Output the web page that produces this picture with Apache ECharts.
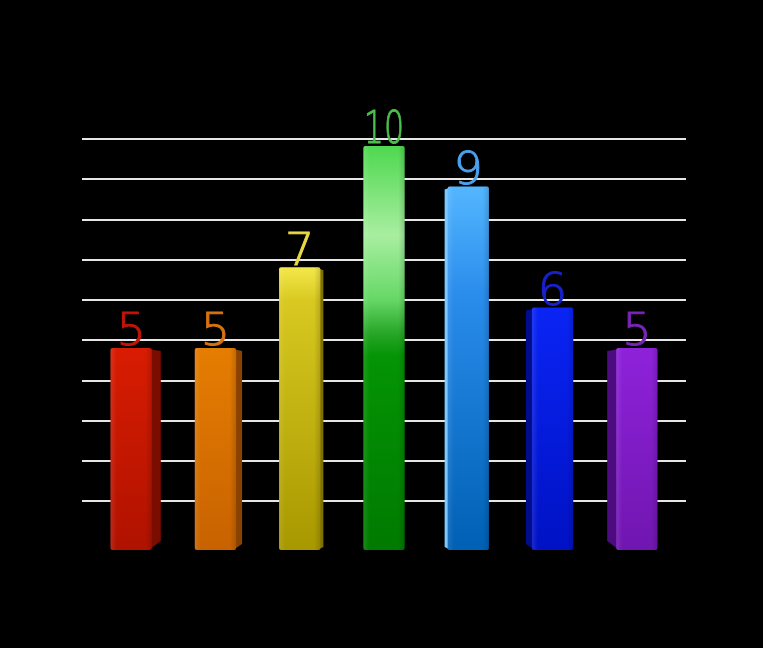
<!DOCTYPE html>
<html>
<head>
<meta charset="utf-8">
<title>bars</title>
<style>html,body{margin:0;padding:0;background:#000;}#chart{width:763px;height:648px;}</style>
</head>
<body>
<div id="chart"></div>
<script src="https://cdn.jsdelivr.net/npm/echarts@6/dist/echarts.min.js"></script>
<script>
var categories = ['A', 'B', 'C', 'D', 'E', 'F', 'G'];
var values = [5, 5, 7, 10, 9, 6, 5];
var gridTicks = [0, 1, 2, 3, 4, 5, 6, 7, 8, 9];

// colour sets per bar: gradient stops top->bottom, side face, label
var palette = [
    {stops: [[0, '#d81c02'], [1, '#b01200']], side: '#7a0c00', label: '#c41408'},
    {stops: [[0, '#e57d02'], [1, '#c86200']], side: '#8a4200', label: '#d87410'},
    {stops: [[0, '#f4e84a'], [0.12, '#d8c820'], [1, '#a89800']], side: '#807000', label: '#e8d848'},
    {stops: [[0, '#4fd84f'], [0.22, '#a8eea0'], [0.38, '#66d866'], [0.46, '#2aa82a'], [0.52, '#049404'], [1, '#007a00']], side: '#005000', label: '#4cc04c'},
    {stops: [[0, '#54b6ff'], [0.3, '#2a8ceb'], [1, '#0060b4']], side: '#7cc8ff', label: '#4aa2ee'},
    {stops: [[0, '#0a24f4'], [1, '#0012c4']], side: '#000c8a', label: '#1822cc'},
    {stops: [[0, '#8e22da'], [1, '#7016b0']], side: '#4c0c80', label: '#7a24b8'}
];

var chart = echarts.init(document.getElementById('chart'));

function renderBar(params, api) {
    var idx = params.dataIndex;
    var top = api.coord([idx, api.value(1)]);
    var base = api.coord([idx, 0]);
    var bw = api.size([1, 0])[0] * 0.49;
    var x = top[0] - bw / 2;
    var p = palette[idx];
    var s = -(top[0] - 384) / 28;
    var stops = p.stops.map(function (st) { return {offset: st[0], color: st[1]}; });
    var children = [];
    var edge = s >= 0 ? x + bw : x;
    var inset = s >= 0 ? -3 : 3;
    if (Math.abs(s) > 1) {
        children.push({
            type: 'polygon',
            shape: {points: [[edge + inset, top[1] + 1], [edge + s, top[1] + 3], [edge + s, base[1] - Math.abs(s)], [edge + inset, base[1]]]},
            style: {fill: p.side}
        });
    }
    children.push({
        type: 'rect',
        shape: {x: x, y: top[1], width: bw, height: base[1] - top[1], r: 2},
        style: {fill: new echarts.graphic.LinearGradient(0, 0, 0, 1, stops)}
    });
    // soft vertical shading on the face
    children.push({
        type: 'rect',
        shape: {x: x, y: top[1], width: bw, height: base[1] - top[1], r: 2},
        style: {fill: new echarts.graphic.LinearGradient(0, 0, 1, 0, [
            {offset: 0, color: 'rgba(255,255,255,0.10)'},
            {offset: 0.15, color: 'rgba(255,255,255,0)'},
            {offset: 0.85, color: 'rgba(0,0,0,0)'},
            {offset: 1, color: 'rgba(0,0,0,0.15)'}
        ])}
    });
    var txt = String(api.value(1));
    children.push({
        type: 'text',
        x: top[0],
        y: top[1] + 8,
        scaleX: txt.length > 1 ? 0.72 : 1.05,
        style: {
            text: txt,
            x: 0,
            y: 0,
            align: 'center',
            verticalAlign: 'bottom',
            fill: p.label,
            stroke: p.label,
            lineWidth: 0.9,
            font: '200 44px "DejaVu Sans", sans-serif'
        },
        z2: 10
    });
    return {type: 'group', children: children};
}

var option = {
    backgroundColor: '#000',
    animation: false,
    grid: [
        {left: 89, right: 84, top: 146, bottom: 98},
        {left: 82, right: 77, top: 139, bottom: 147}
    ],
    xAxis: [
        {type: 'category', data: categories, gridIndex: 0, show: false},
        {type: 'value', gridIndex: 1, show: false}
    ],
    yAxis: [
        {type: 'value', gridIndex: 0, min: 0, max: 10, show: false, splitLine: {show: false}},
        {type: 'value', gridIndex: 1, min: gridTicks[0], max: gridTicks[gridTicks.length - 1], interval: 1,
         axisLine: {show: false}, axisTick: {show: false}, axisLabel: {show: false},
         splitLine: {show: true, lineStyle: {color: '#e6e6e6', width: 2}}}
    ],
    series: [
        {
            type: 'line', xAxisIndex: 1, yAxisIndex: 1, data: [], silent: true
        },
        {
            type: 'custom',
            xAxisIndex: 0,
            yAxisIndex: 0,
            renderItem: renderBar,
            data: values.map(function (v, i) { return [i, v]; }),
            z: 5
        }
    ]
};
chart.setOption(option);
</script>
</body>
</html>
